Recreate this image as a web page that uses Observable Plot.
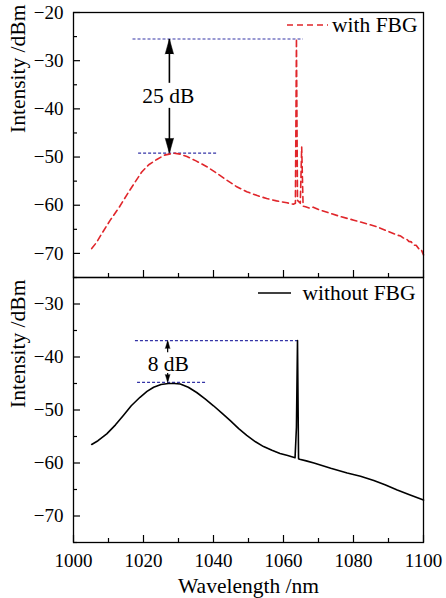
<!DOCTYPE html>
<html><head><meta charset="utf-8">
<script src="https://cdn.jsdelivr.net/npm/d3@7"></script>
<script src="https://cdn.jsdelivr.net/npm/@observablehq/plot@0.6"></script>
<style>
body{margin:0;background:#fff;}
#wrap{position:relative;width:446px;height:598px;overflow:hidden;font-family:"Liberation Serif",serif;background:#fff;}
#wrap svg{position:absolute;left:0;overflow:visible;}
#wrap svg, #wrap svg text{font-family:"Liberation Serif",serif !important;}
</style></head><body><div id="wrap"></div>
<script>
// ---- data ----
const wlWith = [1005.2,1006.5,1008,1010.5,1013,1015.2,1017.5,1019.5,1021.5,1023.8,1026,1028.6,1030.5,1032.4,1035,1038.1,1041,1043.8,1046.5,1049.5,1052.5,1055.2,1058,1061,1062.8,1063.4,1063.7,1064.0,1064.8,1065.2,1065.6,1066.3,1067.5,1068.5,1070.1,1073.4,1076.5,1080.1,1083.5,1086.8,1089.5,1092.5,1093.5,1094.2,1095,1095.8,1096.5,1097.2,1097.9,1098.6,1099.3,1100];
const dbWith = [-69.0,-67.8,-66.0,-63.1,-60.5,-57.9,-55.3,-53.1,-51.6,-50.5,-49.6,-49.2,-49.4,-49.9,-50.8,-52.0,-53.4,-54.8,-56.1,-57.2,-58.0,-58.6,-59.1,-59.5,-59.8,-59.6,-25.4,-59.0,-59.6,-47.9,-60.2,-60.3,-60.6,-60.4,-60.9,-61.7,-62.4,-63.1,-63.8,-64.5,-65.3,-66.2,-66.4,-66.8,-66.9,-67.5,-67.6,-68.3,-68.3,-69.0,-69.1,-70.3];
const wlWithout = [1005.2,1007,1009.5,1012,1014.3,1016.5,1019.0,1021,1022.9,1025,1027.1,1028.8,1030.5,1032.8,1035.2,1037.6,1040,1042.4,1044.8,1047.2,1049.5,1052,1054.3,1056.7,1059.0,1061.2,1063.3,1063.7,1064.0,1064.3,1064.6,1066.5,1068.7,1073.5,1078.2,1082,1085.8,1089,1092.5,1096,1100];
const dbWithout = [-56.5,-55.8,-54.5,-52.8,-51.0,-49.2,-47.6,-46.5,-45.7,-45.2,-45.0,-45.0,-45.1,-45.7,-46.7,-47.9,-49.2,-50.6,-52.0,-53.5,-54.8,-56.0,-56.9,-57.6,-58.2,-58.6,-59.0,-53.2,-36.9,-59.2,-59.3,-59.6,-60.0,-61.0,-61.9,-62.5,-63.3,-64.1,-65.1,-66.0,-67.0];

const xMajor = [1000,1020,1040,1060,1080,1100];
const xMinor = [1010,1030,1050,1070,1090];
const yMajorTop = [-70,-60,-50,-40,-30,-20];
const yMinorTop = [-75,-65,-55,-45,-35,-25];
const yMajorBot = [-70,-60,-50,-40,-30];
const yMinorBot = [-75,-65,-55,-45,-35];

// annotation levels
const topHigh = {db:-25.5, x1:1017, x2:1065.7};
const topLow  = {db:-49.2, x1:1018.6, x2:1041.4};
const botHigh = {db:-36.9, x1:1017.7, x2:1064.3};
const botLow  = {db:-44.8, x1:1018.3, x2:1038.0};
const topArrowX = 1027.4, botArrowX = 1026.9;

const withData = wlWith.map((w,i)=>({w, v:dbWith[i]}));
const withoutData = wlWithout.map((w,i)=>({w, v:dbWithout[i]}));

// ---- layout ----
const W = 446, mL = 73, mR = 23;
const pw = W - mL - mR;
const font = "Liberation Serif";
const blue = "#3434a6", red = "#e0262b";
const fmt = d3.format("d");
const tickFS = 19, textFS = 21.5;

function ticksMarks(yMaj, yMin, ph){
  return [
    Plot.tickY(yMaj, {y:d=>d, insetRight: pw-7, stroke:"black", strokeWidth:1.2}),
    Plot.tickY(yMin, {y:d=>d, insetRight: pw-4, stroke:"black", strokeWidth:1.2}),
    Plot.tickX(xMajor, {x:d=>d, insetTop: ph-7, stroke:"black", strokeWidth:1.2}),
    Plot.tickX(xMinor, {x:d=>d, insetTop: ph-4, stroke:"black", strokeWidth:1.2})
  ];
}

const topH = 277, topMT = 12;
const topPlot = Plot.plot({
  width: W, height: topH, marginLeft: mL, marginRight: mR, marginTop: topMT, marginBottom: 0,
  style: {fontFamily: font, fontSize: "19px", background: "transparent", overflow: "visible"},
  x: {domain: [1000,1100], axis: null},
  y: {domain: [-75,-20]},
  marks: [
    Plot.axisY({ticks: yMajorTop, tickSize: 0, tickPadding: 10, label: null, tickFormat: fmt, fontSize: tickFS, fontFamily: font}),
    ...ticksMarks(yMajorTop, yMinorTop, topH - topMT),
    Plot.ruleY([topHigh], {y:"db", x1:"x1", x2:"x2", stroke: blue, strokeWidth:1.2, strokeDasharray:"3,2"}),
    Plot.ruleY([topLow], {y:"db", x1:"x1", x2:"x2", stroke: blue, strokeWidth:1.2, strokeDasharray:"3,2"}),
    Plot.line(withData, {x:"w", y:"v", stroke: red, strokeWidth:1.6, strokeDasharray:"6,4"}),
    Plot.ruleX([topArrowX], {x:d=>d, y1:-25.6, y2:-34.7, stroke:"black", strokeWidth:1.6}),
    Plot.ruleX([topArrowX], {x:d=>d, y1:-39.9, y2:-49.0, stroke:"black", strokeWidth:1.6}),
    Plot.vector([{x:topArrowX, y:topHigh.db}], {x:"x", y:"y", length:15, r:4.2, shape:"spike", anchor:"end", rotate:0, fill:"black", stroke:"black", strokeWidth:0.5}),
    Plot.vector([{x:topArrowX, y:topLow.db}], {x:"x", y:"y", length:15, r:4.2, shape:"spike", anchor:"end", rotate:180, fill:"black", stroke:"black", strokeWidth:0.5}),
    Plot.text(["25 dB"], {x:()=>1027.1, y:()=>-37.3, text:d=>d, fontSize:textFS, fontFamily: font, fill:"black"}),
    Plot.text(["with FBG"], {frameAnchor:"top-right", dx:-6, dy:13, text:d=>d, textAnchor:"end", lineAnchor:"middle", fontSize:textFS, fontFamily: font, fill:"black"}),
    Plot.text(["Intensity /dBm"], {frameAnchor:"left", dx:-55, dy:-12, rotate:-90, text:d=>d, fontSize:textFS, fontFamily: font, fill:"black"}),
    Plot.frame({stroke:"black", strokeWidth:1.3})
  ]
});
topPlot.style.top = "0px";

const botTop = 277, botH = 321, botMB = 56;
const botPlot = Plot.plot({
  width: W, height: botH, marginLeft: mL, marginRight: mR, marginTop: 0, marginBottom: botMB,
  style: {fontFamily: font, fontSize: "19px", background: "transparent", overflow: "visible"},
  x: {domain: [1000,1100]},
  y: {domain: [-75,-25]},
  marks: [
    Plot.axisY({ticks: yMajorBot, tickSize: 0, tickPadding: 10, label: null, tickFormat: fmt, fontSize: tickFS, fontFamily: font}),
    Plot.axisX({ticks: xMajor, tickSize: 0, tickPadding: 11, label: null, tickFormat: fmt, fontSize: tickFS, fontFamily: font}),
    ...ticksMarks(yMajorBot, yMinorBot, botH - botMB),
    Plot.ruleY([botHigh], {y:"db", x1:"x1", x2:"x2", stroke: blue, strokeWidth:1.2, strokeDasharray:"3,2"}),
    Plot.ruleY([botLow], {y:"db", x1:"x1", x2:"x2", stroke: blue, strokeWidth:1.2, strokeDasharray:"3,2"}),
    Plot.line(withoutData, {x:"w", y:"v", stroke: "black", strokeWidth:1.6}),
    Plot.ruleX([botArrowX], {x:d=>d, y1:-37.2, y2:-39.2, stroke:"black", strokeWidth:1.2}),
    Plot.ruleX([botArrowX], {x:d=>d, y1:-43.1, y2:-44.6, stroke:"black", strokeWidth:1.2}),
    Plot.vector([{x:botArrowX, y:botHigh.db}], {x:"x", y:"y", length:8, r:2.4, shape:"spike", anchor:"end", rotate:0, fill:"black", stroke:"black", strokeWidth:0.4}),
    Plot.vector([{x:botArrowX, y:botLow.db}], {x:"x", y:"y", length:8, r:2.4, shape:"spike", anchor:"end", rotate:180, fill:"black", stroke:"black", strokeWidth:0.4}),
    Plot.text(["8 dB"], {x:()=>1027.1, y:()=>-41.3, text:d=>d, fontSize:textFS, fontFamily: font, fill:"black"}),
    Plot.text(["without FBG"], {frameAnchor:"top-right", dx:-8, dy:16, text:d=>d, textAnchor:"end", lineAnchor:"middle", fontSize:textFS, fontFamily: font, fill:"black"}),
    Plot.text(["Intensity /dBm"], {frameAnchor:"left", dx:-55, dy:-2, rotate:-90, text:d=>d, fontSize:textFS, fontFamily: font, fill:"black"}),
    Plot.text(["Wavelength /nm"], {frameAnchor:"bottom", dy:44, text:d=>d, lineAnchor:"middle", fontSize:textFS, fontFamily: font, fill:"black"}),
    Plot.frame({stroke:"black", strokeWidth:1.3})
  ]
});
botPlot.style.top = botTop + "px";

const wrap = document.getElementById("wrap");
wrap.appendChild(botPlot);
wrap.appendChild(topPlot);

// legend swatches
const NS = "http://www.w3.org/2000/svg";
const sw = document.createElementNS(NS, "svg");
sw.setAttribute("width", W); sw.setAttribute("height", 598);
sw.style.top = "0px"; sw.style.pointerEvents = "none";
function swLine(x1,x2,y,stroke,dash,width){
  const l = document.createElementNS(NS,"line");
  l.setAttribute("x1",x1); l.setAttribute("x2",x2); l.setAttribute("y1",y); l.setAttribute("y2",y);
  l.setAttribute("stroke",stroke); l.setAttribute("stroke-width",width);
  if (dash) l.setAttribute("stroke-dasharray",dash);
  sw.appendChild(l);
}
swLine(287, 328, 25, red, "6,4", 1.6);
swLine(258, 291, 293, "black", null, 1.6);
wrap.appendChild(sw);
</script></body></html>
